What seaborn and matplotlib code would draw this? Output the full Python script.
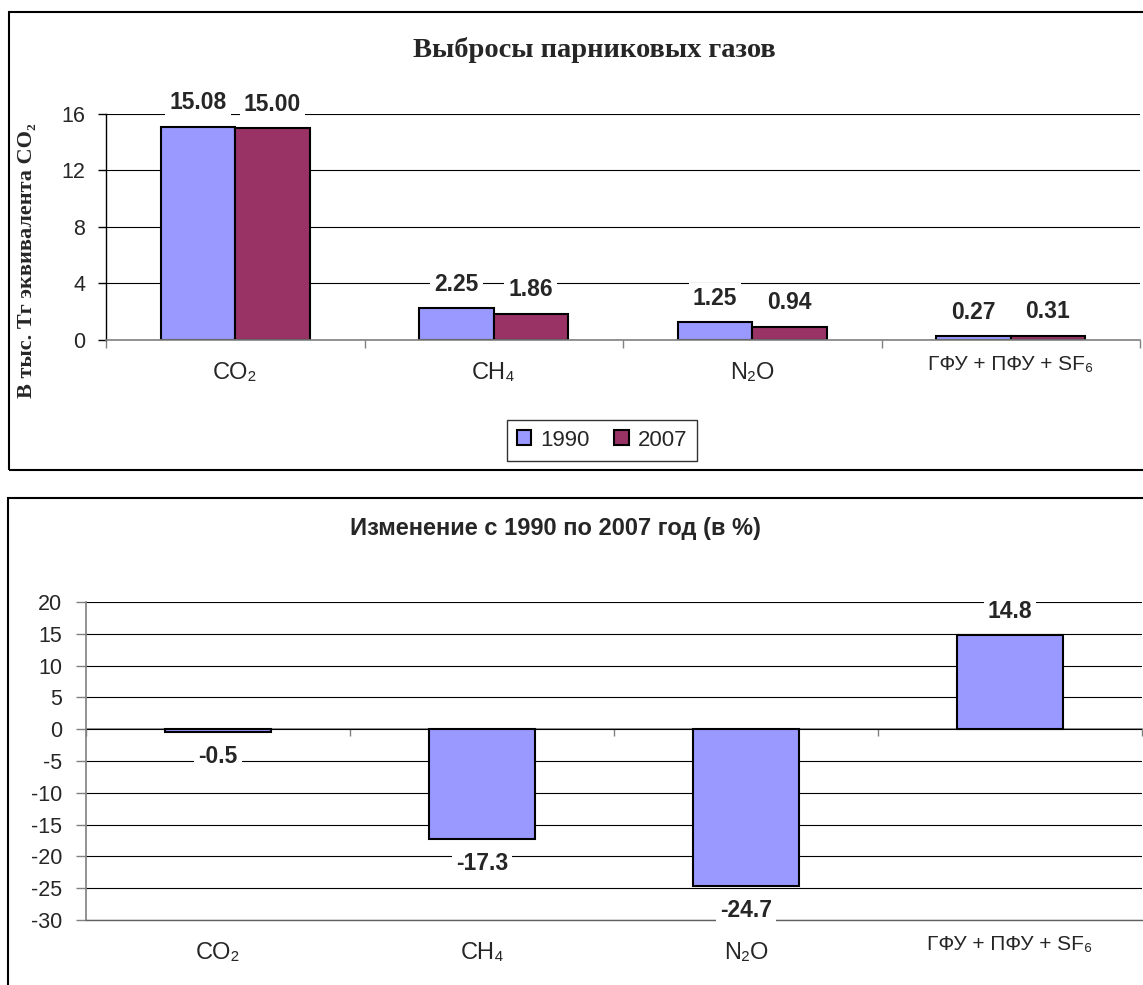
import numpy as np
import pandas as pd
import matplotlib
matplotlib.use('Agg')
import matplotlib.pyplot as plt
import seaborn as sns
from matplotlib.patches import Rectangle
from matplotlib.transforms import ScaledTranslation

# ---- data ----
categories = ['CO₂', 'CH₄', 'N₂O', 'ГФУ + ПФУ + SF₆']
years = ['1990', '2007']
emissions_1990 = [15.08, 2.25, 1.25, 0.27]
emissions_2007 = [15.00, 1.86, 0.94, 0.31]
change_pct = [-0.5, -17.3, -24.7, 14.8]
top_yticks = [0, 4, 8, 12, 16]
bottom_yticks = [-30, -25, -20, -15, -10, -5, 0, 5, 10, 15, 20]
top_title = 'Выбросы парниковых газов'
top_ylabel = 'В тыс. Тг эквивалента CO₂'
bottom_title = 'Изменение с 1990 по 2007 год (в %)'

sns.set_style('ticks')
plt.rcParams['font.family'] = ['Liberation Sans', 'DejaVu Sans']
plt.rcParams['axes.unicode_minus'] = False
SERIF = ['Liberation Serif', 'DejaVu Serif']
SANS = ['Liberation Sans', 'DejaVu Sans']

W, H = 1143, 985
fig = plt.figure(figsize=(W / 100, H / 100), dpi=100)


def rect(l, t, r, b):
    return [l / W, 1 - b / H, (r - l) / W, (b - t) / H]


# panel frames
fig.add_artist(Rectangle((9 / W, 1 - 470 / H), 1.2, (470 - 12) / H,
                         transform=fig.transFigure, fill=False, lw=1.5, ec='black'))
fig.add_artist(Rectangle((8 / W, 1 - 1200 / H), 1.2, (1200 - 498) / H,
                         transform=fig.transFigure, fill=False, lw=1.5, ec='black'))

ax1 = fig.add_axes(rect(106, 114, 1140, 340))
ax2 = fig.add_axes(rect(86, 602, 1142, 920))

colors = ['#9999FF', '#993366']

# ---- top chart ----
df = pd.DataFrame({
    'cat': categories * 2,
    'year': [years[0]] * len(categories) + [years[1]] * len(categories),
    'val': emissions_1990 + emissions_2007,
})
sns.barplot(data=df, x='cat', y='val', hue='year', palette=colors, saturation=1,
            width=0.575, edgecolor='black', linewidth=1.5, ax=ax1)
handles, labels = ax1.get_legend_handles_labels()
ax1.get_legend().remove()

ax1.set_axisbelow(True)
ax1.set_ylim(0, 16)
ax1.set_yticks(top_yticks)
ax1.set_xlim(-0.5, len(categories) - 0.5)
ax1.yaxis.grid(True, color='black', lw=0.8)
ax1.set_xlabel('')
ax1.set_ylabel('')
for s in ['top', 'right']:
    ax1.spines[s].set_visible(False)
ax1.spines['left'].set_color('black')
ax1.spines['left'].set_linewidth(1)
ax1.spines['bottom'].set_color('#808080')
ax1.spines['bottom'].set_linewidth(1.2)
ax1.tick_params(axis='y', left=True, direction='out', length=6, width=1,
                color='black', pad=9, labelsize=15.5)
ax1.tick_params(axis='x', which='major', bottom=True, length=0, pad=16, labelsize=17)
ax1.set_xticks(np.arange(len(categories) + 1) - 0.5, minor=True)
ax1.tick_params(axis='x', which='minor', bottom=True, length=6, width=1,
                direction='out', color='#808080')

for c in ax1.containers:
    ax1.bar_label(c, fmt='%.2f', padding=9, fontsize=16.5, fontweight='bold',
                  bbox=dict(facecolor='white', edgecolor='none', pad=3))

# ---- bottom chart ----
df2 = pd.DataFrame({'cat': categories, 'val': change_pct})
sns.barplot(data=df2, x='cat', y='val', color=colors[0], saturation=1, width=0.40,
            edgecolor='black', linewidth=1.5, ax=ax2)
ax2.set_axisbelow(True)
ax2.set_ylim(bottom_yticks[0], bottom_yticks[-1])
ax2.set_yticks(bottom_yticks)
ax2.set_xlim(-0.5, len(categories) - 0.5)
ax2.yaxis.grid(True, color='black', lw=0.8)
ax2.set_xlabel('')
ax2.set_ylabel('')
for s in ['top', 'right']:
    ax2.spines[s].set_visible(False)
ax2.spines['bottom'].set_color('#606060')
ax2.spines['bottom'].set_linewidth(1)
ax2.spines['left'].set_color('#808080')
ax2.spines['left'].set_linewidth(1.2)
ax2.tick_params(axis='y', left=True, direction='out', length=7, width=1,
                color='#808080', pad=10, labelsize=15.5)
ax2.tick_params(axis='x', which='major', bottom=True, length=0, pad=16, labelsize=17)

ylo, yhi = ax2.get_ylim()
sec = ax2.secondary_xaxis((0 - ylo) / (yhi - ylo))
sec.set_alignment('bottom')
sec.set_xticks(np.arange(len(categories) + 1) - 0.5)
sec.set_xticklabels([])
sec.tick_params(axis='x', length=5, width=1, color='#808080', direction='out',
                labelbottom=False, labeltop=False)
sec.spines['bottom'].set_color('#808080')
sec.spines['bottom'].set_linewidth(1.2)

for c in ax2.containers:
    ax2.bar_label(c, fmt='%.1f', padding=9, fontsize=16.5, fontweight='bold',
                  bbox=dict(facecolor='white', edgecolor='none', pad=3))

# smaller, raised label for the F-gases category
for ax in (ax1, ax2):
    for lbl in ax.get_xticklabels():
        if 'ГФУ' in lbl.get_text():
            lbl.set_fontsize(15)
            lbl.set_transform(lbl.get_transform() +
                              ScaledTranslation(0, 7 / 100, fig.dpi_scale_trans))

# ---- texts ----
fig.text(594 / W, 1 - 50 / H, top_title, ha='center', va='center',
         family=SERIF, weight='bold', size=20.5)
fig.text(27 / W, 1 - 261 / H, top_ylabel, ha='center', va='center', rotation=90,
         family=SERIF, weight='bold', size=16)
fig.text(555 / W, 1 - 528 / H, bottom_title, ha='center', va='center',
         family=SANS, weight='bold', size=17)

leg = fig.legend(handles, labels, loc='center', bbox_to_anchor=(602 / W, 1 - 440 / H),
                 ncol=2, frameon=True, fancybox=False, edgecolor='black', fontsize=16,
                 handlelength=0.65, handleheight=0.65, columnspacing=1.1,
                 handletextpad=0.4, borderpad=0.45, borderaxespad=0)
leg.get_frame().set_linewidth(1)
for h in leg.legend_handles:
    h.set_edgecolor('black')
    h.set_linewidth(1.5)

fig.savefig('out.png', dpi=100)
